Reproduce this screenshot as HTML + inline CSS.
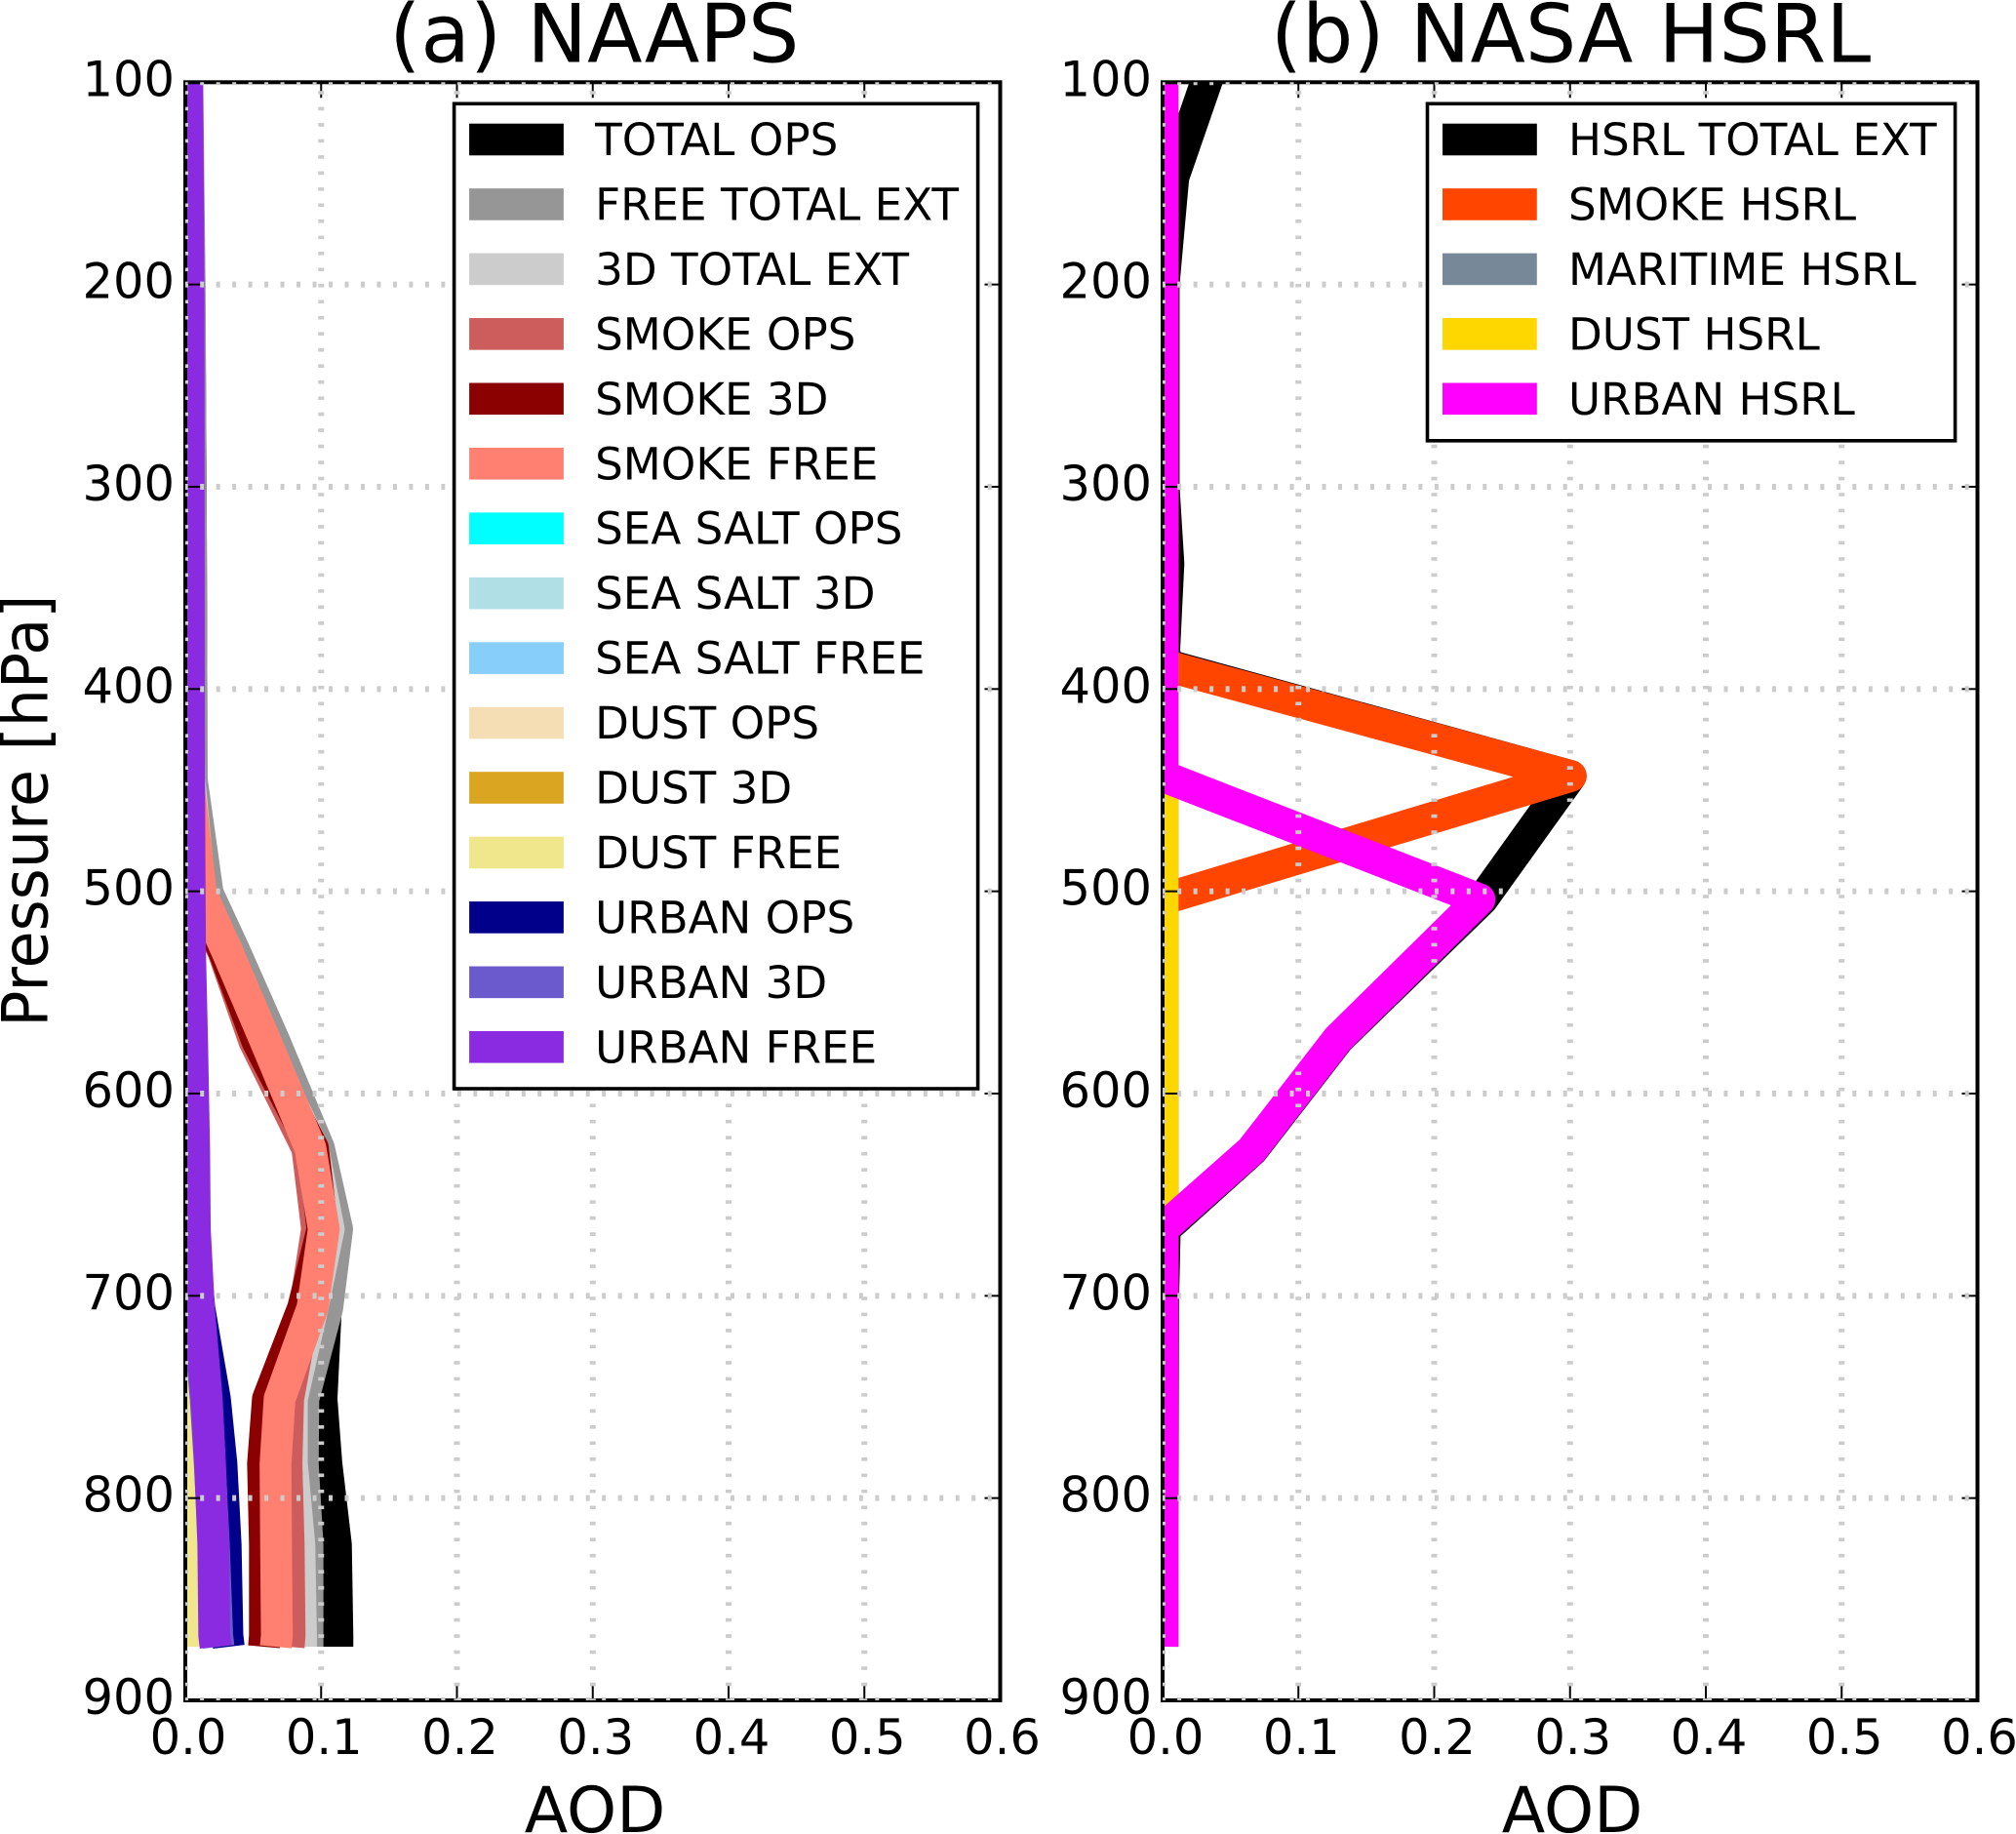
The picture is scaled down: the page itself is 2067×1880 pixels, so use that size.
<!DOCTYPE html>
<html lang="en">
<head>
<meta charset="utf-8">
<title>NAAPS and NASA HSRL AOD profiles</title>
<style>
html,body{margin:0;padding:0;background:#fff;}
svg{display:block;}
text{font-family:"DejaVu Sans","Liberation Sans",sans-serif;fill:#000;}
</style>
</head>
<body>
<svg id="chart" xmlns="http://www.w3.org/2000/svg" width="2067" height="1880" viewBox="0 0 2067 1880">
  <defs>
    <clipPath id="clip-a"><rect x="190" y="84.3" width="835.5" height="1658.7"/></clipPath>
    <clipPath id="clip-b"><rect x="1192" y="84.3" width="835.5" height="1658.7"/></clipPath>
  </defs>
  <rect x="0" y="0" width="2067" height="1880" fill="#fff"/>
  <text x="609.3" y="63.3" font-size="82.5" text-anchor="middle">(a) NAAPS</text>
  <text x="1610.5" y="63.3" font-size="82.5" text-anchor="middle">(b) NASA HSRL</text>
  <text transform="translate(48.3,1052.7) rotate(-90)" font-size="65" textLength="443" lengthAdjust="spacingAndGlyphs">Pressure [hPa]</text>
  <text x="610" y="1878" font-size="65" text-anchor="middle">AOD</text>
  <text x="1612" y="1878" font-size="65" text-anchor="middle">AOD</text>
  <g id="panel-a"></g>
  <g id="panel-b"></g>
</svg>
<script>
// Axis ticks
const aodTicks = [0, 0.1, 0.2, 0.3, 0.4, 0.5, 0.6];
const aodTickLabels = ['0.0', '0.1', '0.2', '0.3', '0.4', '0.5', '0.6'];
const pressureTicks = [100, 200, 300, 400, 500, 600, 700, 800, 900];
const pressureTickLabels = ['100', '200', '300', '400', '500', '600', '700', '800', '900'];

// Panel (a) NAAPS: pressure levels [hPa]
const naapsLevels = [100, 200, 300, 400, 445, 501, 530, 574, 627, 667, 706, 751, 783, 823, 868, 873.5];
// Panel (a) AOD per series
const totalOps     = [0.001, 0.003, 0.004, 0.0045, 0.0045, 0.015, 0.033, 0.062, 0.096, 0.108, 0.1035, 0.1003, 0.1039, 0.1109, 0.112, 0.112];
const freeTotalExt = [0.0015, 0.0032, 0.004, 0.0045, 0.0048, 0.0165, 0.0365, 0.0655, 0.0984, 0.1118, 0.1045, 0.0869, 0.0865, 0.09, 0.09, 0.09];
const d3TotalExt   = [0.001, 0.002, 0.002, 0.002, 0.003, 0.011, 0.031, 0.056, 0.094, 0.1056, 0.0936, 0.0785, 0.0785, 0.084, 0.0852, 0.0852];
const smokeOps     = [0.001, 0.001, 0.001, 0.001, 0.002, 0.0085, 0.028, 0.0508, 0.0898, 0.097, 0.088, 0.0757, 0.0745, 0.0761, 0.0768, 0.0761];
const smoke3d      = [0.001, 0.001, 0.001, 0.001, 0.002, 0.0085, 0.0287, 0.053, 0.094, 0.101, 0.0867, 0.0608, 0.0572, 0.0586, 0.0586, 0.0579];
const smokeFree    = [0.001, 0.001, 0.001, 0.001, 0.002, 0.0115, 0.031, 0.059, 0.0921, 0.102, 0.0936, 0.0694, 0.0664, 0.0668, 0.0674, 0.0666];
const seaSaltOps   = [0, 0, 0, 0, 0, 0, 0, 0, 0, 0.0005, 0.0005, 0.0005, 0.0005, 0.0005, 0.0005, 0.0005];
const seaSalt3d    = [0, 0, 0, 0, 0, 0, 0, 0, 0, 0, 0.0005, 0.0005, 0.0005, 0.0005, 0.0005, 0.0005];
const seaSaltFree  = [0, 0, 0, 0, 0, 0, 0, 0, 0, 0, 0, 0.0005, 0.0005, 0.0005, 0.0005, 0.0005];
const dustOps      = [0, 0, 0, 0, 0, 0, 0, 0, 0, 0.0005, 0.0005, 0.0005, 0.0005, 0.0005, 0.0005, 0.0005];
const dust3d       = [0, 0, 0, 0, 0, 0, 0, 0, 0, 0.0005, 0.0008, 0.0008, 0.0008, 0.0008, 0.0008, 0.0008];
const dustFree     = [0, 0, 0, 0, 0, 0, 0, 0, 0.0005, 0.0005, 0.001, 0.001, 0.001, 0.001, 0.001, 0.001];
const urbanOps     = [0.001, 0.001, 0.001, 0.001, 0.001, 0.001, 0.001, 0.002, 0.003, 0.005, 0.0103, 0.0218, 0.0266, 0.0297, 0.031, 0.032];
const urban3d      = [0.001, 0.001, 0.001, 0.001, 0.001, 0.001, 0.001, 0.002, 0.003, 0.005, 0.009, 0.015, 0.018, 0.021, 0.0235, 0.0245];
const urbanFree    = [0.0014, 0.0024, 0.0025, 0.0026, 0.0028, 0.0032, 0.0035, 0.005, 0.0065, 0.007, 0.01, 0.0158, 0.0182, 0.0206, 0.0213, 0.0223];

const naapsNames = ['TOTAL OPS', 'FREE TOTAL EXT', '3D TOTAL EXT', 'SMOKE OPS', 'SMOKE 3D', 'SMOKE FREE', 'SEA SALT OPS', 'SEA SALT 3D', 'SEA SALT FREE', 'DUST OPS', 'DUST 3D', 'DUST FREE', 'URBAN OPS', 'URBAN 3D', 'URBAN FREE'];
const naapsColors = ['#000000', '#969696', '#cccccc', '#cd5c5c', '#8b0000', '#ff8070', '#00ffff', '#b0e0e6', '#87cefa', '#f5deb3', '#daa520', '#f0e68c', '#00008b', '#6a5acd', '#8a2be2'];
const naapsValues = [totalOps, freeTotalExt, d3TotalExt, smokeOps, smoke3d, smokeFree, seaSaltOps, seaSalt3d, seaSaltFree, dustOps, dust3d, dustFree, urbanOps, urban3d, urbanFree];

// Panel (b) NASA HSRL: pressure levels [hPa]
const hsrlLevels = [90, 100, 147, 200, 300, 338, 381, 388, 443, 504, 573, 628, 667, 700, 873.5];
// Panel (b) AOD per series
const hsrlTotalExt = [0.0372, 0.0321, 0.0079, 0.0008, 0.0008, 0.0043, 0.0012, 0.003, 0.3005, 0.2354, 0.1296, 0.0661, 0.0016, 0.0005, 0];
const hsrlSmoke    = [0, 0, 0, 0, 0, 0, 0, 0, 0.3005, 0, 0, 0, 0, 0, 0];
const hsrlMaritime = [0, 0, 0, 0, 0, 0, 0, 0, 0, 0, 0, 0, 0, 0, 0];
const hsrlDust     = [0, 0, 0, 0, 0, 0, 0, 0, 0, 0, 0, 0, 0, 0, 0];
const hsrlUrban    = [0, 0, 0, 0, 0, 0, 0, 0, 0, 0.2334, 0.1291, 0.0656, 0, 0, 0];

const hsrlNames = ['HSRL TOTAL EXT', 'SMOKE HSRL', 'MARITIME HSRL', 'DUST HSRL', 'URBAN HSRL'];
const hsrlColors = ['#000000', '#ff4500', '#778899', '#ffd700', '#ff00ff'];
const hsrlValues = [hsrlTotalExt, hsrlSmoke, hsrlMaritime, hsrlDust, hsrlUrban];

const SVGNS = 'http://www.w3.org/2000/svg';
const AXIS_TOP = 84.3, AXIS_BOTTOM = 1743, AXIS_WIDTH = 835.5, AOD_MAX = 0.6, P_MIN = 100, P_MAX = 900;
const LINE_WIDTH = 32.6, DOT_PERIOD = 16.48;

function yScale(p) {
  return AXIS_TOP + (p - P_MIN) / (P_MAX - P_MIN) * (AXIS_BOTTOM - AXIS_TOP);
}
function makeXScale(x0) {
  return function (v) { return x0 + v / AOD_MAX * AXIS_WIDTH; };
}
function make(parent, tag, attrs) {
  const el = document.createElementNS(SVGNS, tag);
  for (const k in attrs) el.setAttribute(k, attrs[k]);
  parent.appendChild(el);
  return el;
}
function slug(s) {
  return s.toLowerCase().replace(/[^a-z0-9]+/g, '-');
}

function drawPanel(panelId, prefix, clipId, x0, levels, names, colors, values, legendBox) {
  const root = document.getElementById(panelId);
  const xScale = makeXScale(x0);
  const x1 = x0 + AXIS_WIDTH;

  // series
  const seriesGroup = make(root, 'g', { 'clip-path': 'url(#' + clipId + ')' });
  
  
  values.forEach(function (vals, i) {
    const pts = vals.map(function (v, j) { return xScale(v).toFixed(2) + ',' + yScale(levels[j]).toFixed(2); }).join(' ');
    const line = make(seriesGroup, 'polyline', {
      points: pts, fill: 'none', stroke: colors[i], 'stroke-width': LINE_WIDTH,
      'stroke-linejoin': 'round', 'stroke-linecap': 'butt'
    });
    
    
  });

  // spines
  const frame = make(root, 'rect', {
    x: x0, y: AXIS_TOP, width: AXIS_WIDTH, height: AXIS_BOTTOM - AXIS_TOP,
    fill: 'none', stroke: '#000', 'stroke-width': 4
  });
  
  

  // ticks
  const tickGroup = make(root, 'g', { stroke: '#000', 'stroke-width': 2 });
  
  
  aodTicks.forEach(function (t) {
    const x = xScale(t);
    make(tickGroup, 'line', { x1: x, x2: x, y1: AXIS_BOTTOM, y2: AXIS_BOTTOM - 16 });
    make(tickGroup, 'line', { x1: x, x2: x, y1: AXIS_TOP, y2: AXIS_TOP + 16 });
  });
  pressureTicks.forEach(function (t) {
    const y = yScale(t);
    make(tickGroup, 'line', { x1: x0, x2: x0 + 16, y1: y, y2: y });
    make(tickGroup, 'line', { x1: x1, x2: x1 - 16, y1: y, y2: y });
  });

  // grid
  const gridGroup = make(root, 'g', { 'clip-path': 'url(#' + clipId + ')', stroke: '#cccccc', 'stroke-width': 6, fill: 'none' });
  
  
  aodTicks.forEach(function (t) {
    if (t >= AOD_MAX) return;
    const x = xScale(t);
    const g = make(gridGroup, 'line', {
      x1: x, x2: x, y1: AXIS_BOTTOM, y2: AXIS_TOP,
      'stroke-dasharray': '3.6 ' + (DOT_PERIOD - 3.6), 'stroke-dashoffset': 1.8
    });
    
    
  });
  pressureTicks.forEach(function (t) {
    const y = yScale(t);
    const g = make(gridGroup, 'line', {
      x1: x0, x2: x1, y1: y, y2: y,
      'stroke-dasharray': '4 ' + (DOT_PERIOD - 4), 'stroke-dashoffset': 1.3
    });
    
    
  });

  // tick labels
  aodTicks.forEach(function (t, i) {
    const label = make(root, 'text', { x: xScale(t) + (i === aodTicks.length - 1 ? 2 : 3), y: 1798, 'font-size': 49.5, 'text-anchor': 'middle' });
    
    
    label.textContent = aodTickLabels[i];
  });
  pressureTicks.forEach(function (t, i) {
    const label = make(root, 'text', { x: x0 - 11, y: yScale(t) + 14, 'font-size': 49.5, 'text-anchor': 'end' });
    
    
    label.textContent = pressureTickLabels[i];
  });

  // legend
  const legend = make(root, 'g', {});
  
  
  const box = make(legend, 'rect', {
    x: legendBox.left, y: 106.3, width: legendBox.right - legendBox.left, height: legendBox.bottom - 106.3,
    fill: '#fff', stroke: '#000', 'stroke-width': 3.6
  });
  
  
  names.forEach(function (name, i) {
    const top = 126.7 + i * 66.45;
    const entry = make(legend, 'g', {});
    
    
    const swatch = make(entry, 'rect', { x: legendBox.left + 15.5, y: top, width: 96.8, height: LINE_WIDTH, fill: colors[i] });
    
    
    const label = make(entry, 'text', { x: legendBox.left + 144.5, y: top + 32.3, 'font-size': 45.2 });
    
    
    label.textContent = name;
  });
}

drawPanel('panel-a', 'naaps', 'clip-a', 190, naapsLevels, naapsNames, naapsColors, naapsValues, { left: 465.6, right: 1002.6, bottom: 1116 });
drawPanel('panel-b', 'hsrl', 'clip-b', 1192, hsrlLevels, hsrlNames, hsrlColors, hsrlValues, { left: 1463.5, right: 2004.6, bottom: 451.8 });
</script>
</body>
</html>
